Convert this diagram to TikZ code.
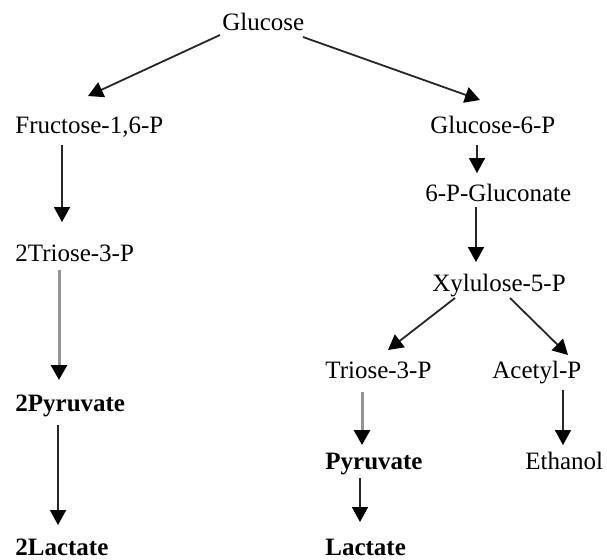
\documentclass[tikz,border=0pt]{standalone}
\usepackage{fontspec}
\setmainfont{Liberation Serif}
\usetikzlibrary{arrows.meta,calc}
\tikzset{
  met/.style={anchor=base west, inner sep=0pt, font=\fontsize{12.5}{15}\selectfont},
  metb/.style={met, font=\fontsize{12.5}{15}\selectfont\bfseries},
  arr/.style={line width=0.9pt, draw=black!85, -{Triangle[width=8pt,length=7.5pt,color=black]}},
  arrg/.style={arr, line width=1.5pt, draw=black!42},
}
\begin{document}
\begin{tikzpicture}[x=0.5pt,y=-0.5pt]
\useasboundingbox (0,0) rectangle (607,559);
% metabolites
\node[met]  (glc)  at (222,30)  {Glucose};
\node[met]  (fru)  at (15,133)  {Fructose-1,6-P};
\node[met]  (g6p)  at (430,133) {Glucose-6-P};
\node[met]  (pg)   at (425,201) {6-P-Gluconate};
\node[met]  (tri2) at (15,261)  {2Triose-3-P};
\node[met]  (xyl)  at (432,291) {Xylulose-5-P};
\node[met]  (tri)  at (325,378) {Triose-3-P};
\node[met]  (ace)  at (492,378) {Acetyl-P};
\node[metb] (pyr2) at (15,411)  {2Pyruvate};
\node[metb] (pyr)  at (325,469) {Pyruvate};
\node[met]  (eth)  at (525,469) {Ethanol};
\node[metb] (lac2) at (15,555)  {2Lactate};
\node[metb] (lac)  at (325,555) {Lactate};
% glycolysis branch
\draw[arr]  ($(glc.base west)+(-2,5)$)   -- ($(fru.base west)+(73,-37)$);
\draw[arr]  ($(fru.base west)+(47,12)$)  -- ($(tri2.base west)+(47,-39)$);
\draw[arrg] ($(tri2.base west)+(44,9)$)  -- ($(pyr2.base west)+(44,-31)$);
\draw[arr]  ($(pyr2.base west)+(43,14)$) -- ($(lac2.base west)+(43,-30)$);
% phosphoketolase branch
\draw[arr]  ($(glc.base west)+(81,7)$)   -- ($(g6p.base west)+(50,-33)$);
\draw[arr]  ($(g6p.base west)+(47,12)$)  -- ($(pg.base west)+(52,-28)$);
\draw[arr]  ($(pg.base west)+(51,6)$)    -- ($(xyl.base west)+(44,-29)$);
\draw[arr]  ($(xyl.base west)+(23,7)$)   -- ($(tri.base west)+(63,-28)$);
\draw[arr]  ($(xyl.base west)+(78,7)$)   -- ($(ace.base west)+(76,-23)$);
\draw[arrg] ($(tri.base west)+(37,14)$)  -- ($(pyr.base west)+(37,-24)$);
\draw[arr]  ($(pyr.base west)+(35,9)$)   -- ($(lac.base west)+(35,-33)$);
\draw[arr]  ($(ace.base west)+(71,12)$)  -- ($(eth.base west)+(38,-24)$);
\end{tikzpicture}
\end{document}
